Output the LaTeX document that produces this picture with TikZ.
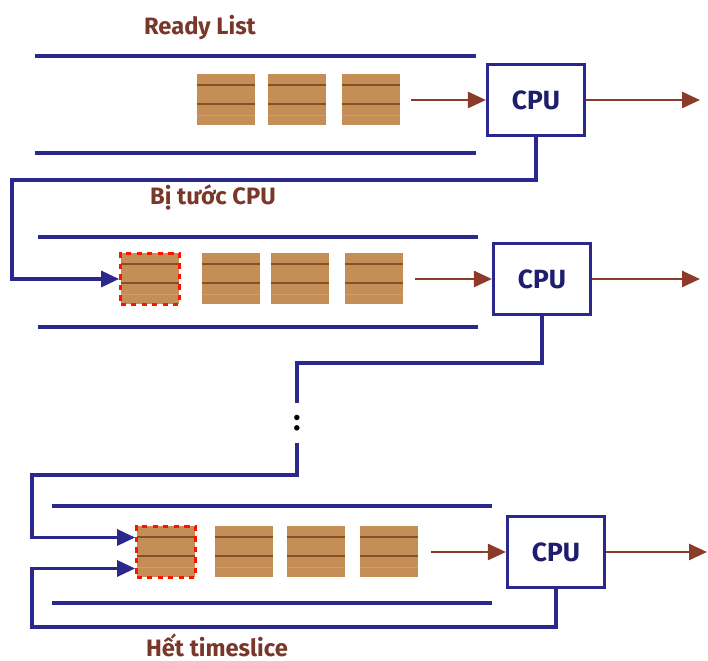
\documentclass[tikz,border=0pt]{standalone}
\usepackage{fontspec}
\setmainfont{Fira Sans}
\usetikzlibrary{arrows.meta}
\definecolor{laneblue}{RGB}{43,40,140}
\definecolor{cpublue}{RGB}{30,30,110}
\definecolor{rustbrown}{RGB}{140,58,42}
\definecolor{labelbrown}{RGB}{120,55,40}
\definecolor{woodtan}{RGB}{196,142,86}
\definecolor{woodgrain}{RGB}{130,82,42}

\begin{document}
\begin{tikzpicture}[x=0.02cm, y=-0.02cm,
  lane/.style={laneblue, line width=1.8pt},
  feed/.style={laneblue, line width=1.8pt, -{Triangle[length=0.36cm,width=0.32cm]}},
  flow/.style={rustbrown, line width=1.5pt, -{Triangle[length=0.36cm,width=0.32cm]}},
  cpubox/.style={draw=laneblue, line width=1.8pt, minimum width=1.94cm, minimum height=1.42cm,
    text=cpublue, font=\fontsize{15}{18}\selectfont\bfseries},
  crate/.style={fill=woodtan, minimum width=1.18cm, minimum height=1.02cm, inner sep=0pt,
    path picture={
      \draw[solid, woodgrain, line width=0.8pt] ([yshift=0.3cm]path picture bounding box.west) -- ([yshift=0.3cm]path picture bounding box.east);
      \draw[solid, woodgrain, line width=0.8pt] ([yshift=-0.08cm]path picture bounding box.west) -- ([yshift=-0.08cm]path picture bounding box.east);
      \draw[solid, woodtan!85!white, line width=0.4pt] ([yshift=-0.3cm]path picture bounding box.west) -- ([yshift=-0.3cm]path picture bounding box.east);}},
  hotcrate/.style={crate, draw=red!85!orange, dashed, line width=1.6pt},
  caption/.style={text=labelbrown, font=\fontsize{13.5}{16}\selectfont\bfseries}]
\useasboundingbox (0,0) rectangle (708,661);

% Ready List
\node[caption] (readyLbl) at (200,28) {Ready List};
\draw[lane] (35,56) -- (476,56);
\draw[lane] (35,153) -- (476,153);
\foreach \cx [count=\i] in {226,297,371}
  \node[crate] (crA\i) at (\cx,100) {};
\node[cpubox] (cpuA) at (536,100) {CPU};
\coordinate (outA) at (700,100);
\draw[flow] ([xshift=0.2cm]crA3.east) -- (cpuA.west);
\draw[flow] (cpuA.east) -- (outA);

% Bi tuoc CPU
\node[caption] (preemptLbl) at (213,197) {Bị tước CPU};
\draw[lane] (38,237) -- (478,237);
\draw[lane] (38,327) -- (478,327);
\node[hotcrate] (crB1) at (150,279) {};
\foreach \cx [count=\i from 2] in {231,300,374}
  \node[crate] (crB\i) at (\cx,279) {};
\node[cpubox] (cpuB) at (542,279) {CPU};
\coordinate (outB) at (700,279);
\draw[flow] ([xshift=0.22cm]crB4.east) -- (cpuB.west);
\draw[flow] (cpuB.east) -- (outB);
\coordinate (turnA) at (12,180);
\draw[feed] (cpuA.south) |- (turnA) |- (crB1.west);

% gap
\node[font=\fontsize{17}{18}\selectfont\bfseries, text=black, minimum height=0.8cm, inner sep=0pt] (dots) at (297,423) {:};
\coordinate (turnB) at (297,363);
\draw[lane] (cpuB.south) |- (turnB) -- (dots.north);

% Het timeslice
\draw[lane] (52,506) -- (492,506);
\draw[lane] (52,603) -- (492,603);
\node[hotcrate] (crC1) at (166,552) {};
\foreach \cx [count=\i from 2] in {244,316,389}
  \node[crate] (crC\i) at (\cx,552) {};
\node[cpubox] (cpuC) at (556,552) {CPU};
\coordinate (outC) at (707,552);
\draw[flow] ([xshift=0.25cm]crC4.east) -- (cpuC.west);
\draw[flow] (cpuC.east) -- (outC);
\coordinate (turnC) at (32,475);
\draw[feed] (dots.south) |- (turnC) |- ([yshift=0.29cm]crC1.west);
\coordinate (turnD) at (32,627);
\draw[feed] (cpuC.south) |- (turnD) |- ([yshift=-0.33cm]crC1.west);
\node[caption] (timeLbl) at (217,645) {Hết timeslice};
\end{tikzpicture}
\end{document}
